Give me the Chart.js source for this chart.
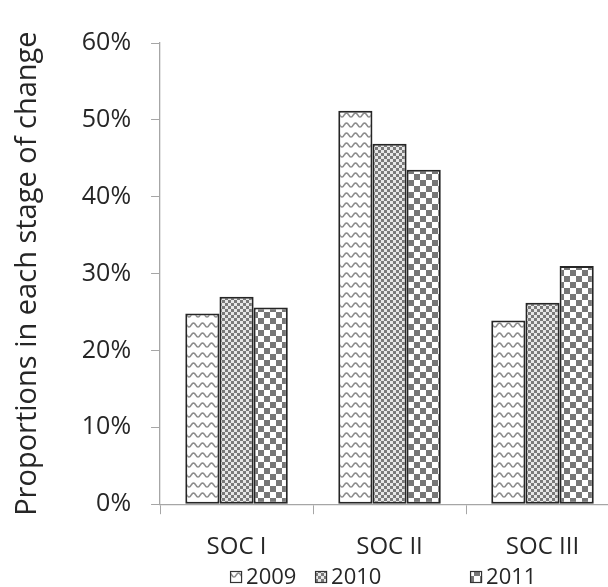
<!DOCTYPE html>
<html>
<head>
<meta charset="utf-8">
<script src="https://cdn.jsdelivr.net/npm/chart.js@4.4.1/dist/chart.umd.min.js"></script>
<style>
  html, body { margin: 0; padding: 0; background: #fff; overflow: hidden; }
  #wrap { width: 625px; height: 587px; }
</style>
</head>
<body>
<div id="wrap"><canvas id="chart"></canvas></div>
<script>
const categories = ["SOC I", "SOC II", "SOC III"];
const seriesNames = ["2009", "2010", "2011"];
const values2009 = [24.8, 51.2, 23.9];
const values2010 = [27.0, 46.9, 26.2];
const values2011 = [25.6, 43.5, 31.0];
const yTicks = [0, 10, 20, 30, 40, 50, 60];

const FONT = "'Open Sans', 'DejaVu Sans', sans-serif";
const TEXT = "#262626";
const AXIS = "#a6a6a6";

// pattern tiles
function makeTile(w, h, draw) {
    const c = document.createElement("canvas");
    c.width = w;
    c.height = h;
    draw(c.getContext("2d"));
    return document.createElement("canvas").getContext("2d").createPattern(c, "repeat");
}

const wavePattern = makeTile(9, 10, (g) => {
    g.fillStyle = "#fff";
    g.fillRect(0, 0, 9, 10);
    g.strokeStyle = "#8c8c8c";
    g.lineWidth = 1.6;
    g.beginPath();
    for (let x = -1; x <= 10; x += 0.5) {
        const y = 5 + 2 * Math.cos((x / 9) * Math.PI * 2);
        if (x === -1) g.moveTo(x, y); else g.lineTo(x, y);
    }
    g.stroke();
});

const smallCheck = makeTile(6, 6, (g) => {
    g.fillStyle = "#e8e8e8";
    g.fillRect(0, 0, 6, 6);
    g.fillStyle = "#7a7a7a";
    g.fillRect(0, 0, 3, 3);
    g.fillRect(3, 3, 3, 3);
});

const bigCheck = makeTile(12, 12, (g) => {
    g.fillStyle = "#fff";
    g.fillRect(0, 0, 12, 12);
    g.fillStyle = "#777";
    g.fillRect(0, 0, 6, 6);
    g.fillRect(6, 6, 6, 6);
});

const patterns = [wavePattern, smallCheck, bigCheck];
const seriesValues = [values2009, values2010, values2011];

// legend drawn under the axis, spaced like the original
const legendOffsets = [70, 155, 310];
const bottomLegend = {
    id: "bottomLegend",
    afterDraw(chart) {
        const ctx = chart.ctx;
        const left = chart.chartArea.left;
        const y = 577;
        ctx.save();
        ctx.font = "22px " + FONT;
        ctx.textBaseline = "middle";
        seriesNames.forEach((name, i) => {
            const x = left + legendOffsets[i];
            ctx.fillStyle = patterns[i];
            ctx.fillRect(x, y - 6, 12, 12);
            ctx.strokeStyle = "#333";
            ctx.lineWidth = 1.2;
            ctx.strokeRect(x + 0.5, y - 5.5, 11, 11);
            ctx.fillStyle = TEXT;
            ctx.fillText(name, x + 16, y + 1);
        });
        ctx.restore();
    },
};

new Chart(document.getElementById("chart"), {
    type: "bar",
    data: {
        labels: categories,
        datasets: seriesNames.map((name, i) => ({
            label: name,
            data: seriesValues[i],
            backgroundColor: patterns[i],
            borderColor: "#262626",
            borderWidth: 2,
            borderSkipped: false,
            categoryPercentage: 0.67,
            barPercentage: 1.0,
        })),
    },
    options: {
        responsive: true,
        maintainAspectRatio: false,
        animation: false,
        layout: { padding: { left: 8, right: 6, top: 43, bottom: 6 } },
        plugins: {
            legend: { display: false },
            tooltip: { enabled: false },
        },
        scales: {
            x: {
                grid: {
                    offset: true,
                    drawOnChartArea: false,
                    color: AXIS,
                    tickLength: 10,
                },
                border: { color: AXIS, width: 1.3 },
                ticks: {
                    color: TEXT,
                    padding: 19,
                    font: { family: FONT, size: 24 },
                },
            },
            y: {
                min: 0,
                max: 60,
                afterBuildTicks(axis) {
                    axis.ticks = yTicks.map((v) => ({ value: v }));
                },
                grid: {
                    drawOnChartArea: false,
                    color: AXIS,
                    tickLength: 9,
                },
                border: { color: AXIS, width: 1.3 },
                ticks: {
                    color: TEXT,
                    padding: 20,
                    font: { family: FONT, size: 25 },
                    callback: (v) => v + "%",
                },
                title: {
                    display: true,
                    text: "Proportions in each stage of change",
                    color: TEXT,
                    padding: { top: 2, bottom: 17 },
                    font: { family: FONT, size: 29 },
                },
            },
        },
    },
    plugins: [bottomLegend],
});
</script>
</body>
</html>
